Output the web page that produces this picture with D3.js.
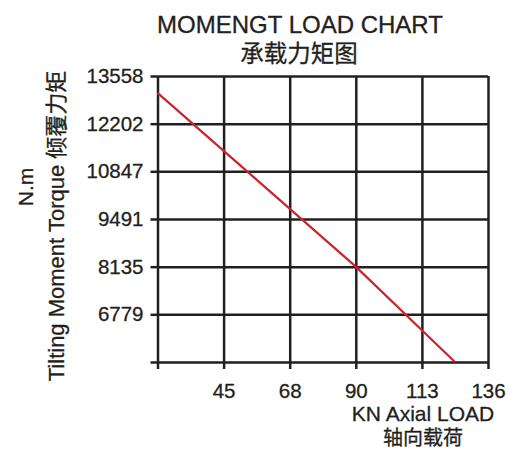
<!DOCTYPE html>
<html>
<head>
<meta charset="utf-8">
<script src="https://cdn.jsdelivr.net/npm/d3@7"></script>
<style>
  body { margin: 0; background: #fff; }
  text { font-family: "Liberation Sans", Arial, "Noto Sans CJK SC", sans-serif; fill: #231f20; stroke: #231f20; stroke-width: 0.3; }
</style>
</head>
<body>
<div id="chart"></div>
<script>
// axial load ticks (kN) and labels
const loadTicks = [22.6, 45.2, 67.8, 90.4, 113, 135.6];
const loadLabels = ["", "45", "68", "90", "113", "136"];
// tilting moment ticks (N.m)
const torqueTicks = [5423, 6779, 8135, 9491, 10847, 12202, 13558];
const torqueLabels = ["", "6779", "8135", "9491", "10847", "12202", "13558"];
// load curve
const curveLoad = [22.6, 90.4, 124.3];
const curveTorque = [13080, 8135, 5423];

const W = 509, H = 451;
const margin = {left: 157.5, right: 21, top: 76, bottom: 89};
const w = W - margin.left - margin.right;
const h = H - margin.top - margin.bottom;

const svg = d3.select("#chart").append("svg")
  .attr("width", W)
  .attr("height", H);

const g = svg.append("g")
  .attr("transform", `translate(${margin.left},${margin.top})`);

const x = d3.scaleLinear().domain([loadTicks[0], loadTicks[loadTicks.length - 1]]).range([0, w]);
const y = d3.scaleLinear().domain([torqueTicks[0], torqueTicks[torqueTicks.length - 1]]).range([h, 0]);

const ink = "#231f20";

// grid
g.append("g")
  .attr("transform", `translate(0,${h})`)
  .call(d3.axisBottom(x).tickValues(loadTicks).tickSize(-h).tickFormat(""))
  .call(s => s.select(".domain").remove());
g.append("g")
  .call(d3.axisLeft(y).tickValues(torqueTicks).tickSize(-w).tickFormat(""))
  .call(s => s.select(".domain").remove());
g.selectAll("line").attr("stroke", ink).attr("stroke-width", 2.5);

// axes with outer ticks and labels
const xAxis = g.append("g")
  .attr("transform", `translate(0,${h})`)
  .call(d3.axisBottom(x).tickValues(loadTicks).tickSize(7).tickPadding(14)
    .tickFormat((d, i) => loadLabels[i]));
const yAxis = g.append("g")
  .call(d3.axisLeft(y).tickValues(torqueTicks).tickSize(7).tickPadding(7)
    .tickFormat((d, i) => torqueLabels[i]));

[xAxis, yAxis].forEach(a => {
  a.select(".domain").remove();
  a.selectAll("line").attr("stroke", ink).attr("stroke-width", 2.5);
  a.selectAll("text").attr("font-size", 20.5).style("fill", ink)
    .attr("font-family", "Liberation Sans, Arial, sans-serif");
});

// load line
const line = d3.line().x(d => x(d[0])).y(d => y(d[1]));
g.append("path")
  .datum(curveLoad.map((d, i) => [d, curveTorque[i]]))
  .attr("d", line)
  .attr("fill", "none")
  .attr("stroke", "#c8252c")
  .attr("stroke-width", 2.2);

// titles
svg.append("text")
  .attr("x", 300).attr("y", 33)
  .attr("text-anchor", "middle")
  .attr("font-size", 24)
  .text("MOMENGT LOAD CHART");
svg.append("text")
  .attr("x", 299).attr("y", 62)
  .attr("text-anchor", "middle")
  .attr("font-size", 23.5)
  .attr("font-family", "Noto Sans CJK SC")
  .text("承载力矩图");

svg.append("text")
  .attr("x", 423).attr("y", 421)
  .attr("text-anchor", "middle")
  .attr("font-size", 21)
  .text("KN Axial LOAD");
svg.append("text")
  .attr("x", 423).attr("y", 445)
  .attr("text-anchor", "middle")
  .attr("font-size", 20)
  .attr("font-family", "Noto Sans CJK SC")
  .text("轴向载荷");

svg.append("text")
  .attr("transform", "translate(64,226) rotate(-90)")
  .attr("text-anchor", "middle")
  .attr("font-size", 22)
  .text("Tilting Moment Torque  倾覆力矩");
svg.append("text")
  .attr("transform", "translate(33,187) rotate(-90)")
  .attr("text-anchor", "middle")
  .attr("font-size", 21)
  .text("N.m");
</script>
</body>
</html>
